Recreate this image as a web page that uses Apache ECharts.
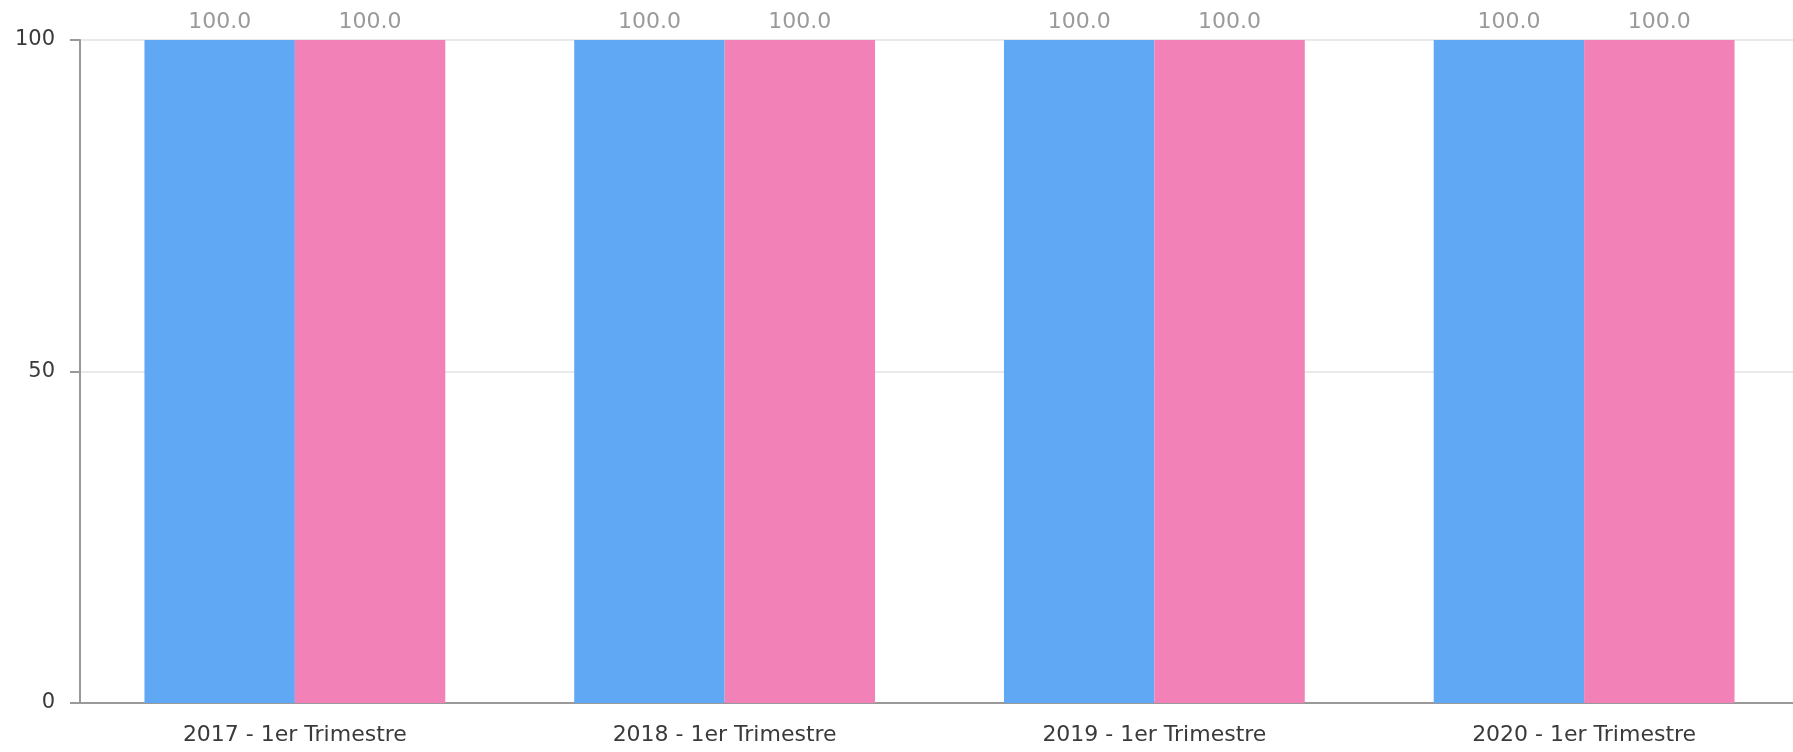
<!DOCTYPE html>
<html>
<head>
<meta charset="utf-8">
<title>Trimestre</title>
<script src="https://cdn.jsdelivr.net/npm/echarts@6/dist/echarts.min.js"></script>
<style>
	html, body { margin: 0; padding: 0; background: #fff; overflow: hidden; }
	/* le graphique déborde un peu à droite, comme sur l'original */
	#chart { width: 1799px; height: 752px; }
</style>
</head>
<body>
<div id="chart"></div>
<script>
	var categories = ['2017 - 1er Trimestre', '2018 - 1er Trimestre', '2019 - 1er Trimestre', '2020 - 1er Trimestre'];
	var serieA = [100, 100, 100, 100];
	var serieB = [100, 100, 100, 100];
	var yTicks = [0, 50, 100];

	(function() {
		'use strict';

		var chart = echarts.init(document.getElementById('chart'));

		//libellé au-dessus de chaque barre
		var barLabel = {
			show: true,
			position: 'top',
			distance: 7,
			color: '#9a9a9a',
			fontFamily: 'DejaVu Sans',
			fontSize: 22,
			formatter: function(p) {
				return p.value.toFixed(1);
			}
		};

		chart.setOption({
			animation: false,
			grid: {
				left: 80,
				right: 0,
				top: 40,
				bottom: 49
			},
			xAxis: {
				type: 'category',
				data: categories,
				axisLine: { lineStyle: { color: '#999', width: 2 } },
				axisTick: { show: false },
				axisLabel: {
					color: '#3a3a3a',
					fontFamily: 'DejaVu Sans',
					fontSize: 22,
					margin: 21
				}
			},
			yAxis: {
				type: 'value',
				min: yTicks[0],
				max: yTicks[yTicks.length - 1],
				interval: yTicks[1] - yTicks[0],
				axisLine: { show: true, lineStyle: { color: '#999', width: 2 } },
				axisTick: { show: true, length: 10, lineStyle: { color: '#999', width: 2 } },
				axisLabel: {
					color: '#3a3a3a',
					fontFamily: 'DejaVu Sans',
					fontSize: 21,
					margin: 25
				},
				splitLine: { lineStyle: { color: '#e3e3e3', width: 1.5 } }
			},
			series: [{
				type: 'bar',
				data: serieA,
				barGap: '0%',
				barCategoryGap: '30%',
				itemStyle: { color: '#61a8f4' },
				label: barLabel
			}, {
				type: 'bar',
				data: serieB,
				barGap: '0%',
				barCategoryGap: '30%',
				itemStyle: { color: '#f281b8' },
				label: barLabel
			}]
		});
	})();
</script>
</body>
</html>
